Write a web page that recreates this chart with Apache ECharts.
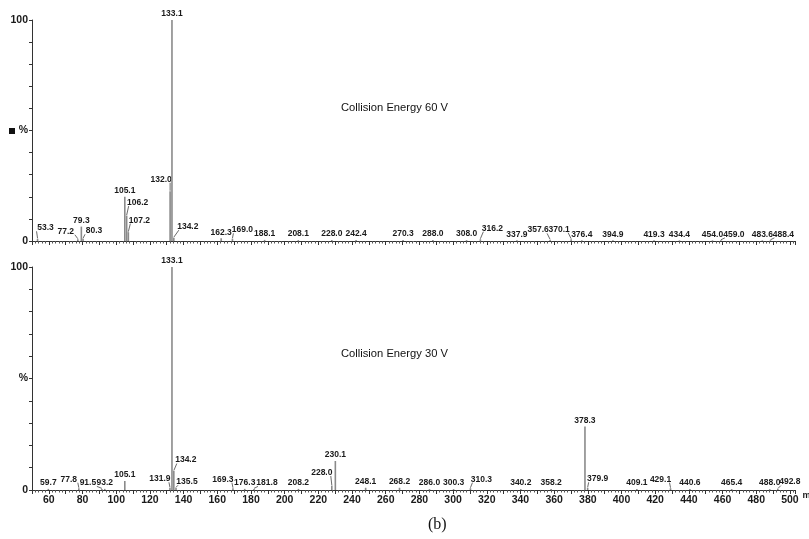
<!DOCTYPE html>
<html>
<head>
<meta charset="utf-8">
<script src="https://cdn.jsdelivr.net/npm/echarts@6/dist/echarts.min.js"></script>
<style>
  html, body { margin: 0; padding: 0; background: #fff; }
  #chart { width: 809px; height: 539px; }
</style>
</head>
<body>
<div id="chart"></div>
<script>
// Product-ion spectra (relative intensity, %) at two collision energies
const mz60 = [53.3, 77.2, 79.3, 80.3, 105.1, 106.2, 107.2, 132.0, 133.1, 134.2,
  162.3, 169.0, 188.1, 208.1, 228.0, 242.4, 270.3, 288.0, 308.0, 316.2,
  337.9, 357.6, 370.1, 376.4, 394.9, 419.3, 434.4, 454.0, 459.0, 483.6, 488.4];
const int60 = [1.0, 0.8, 6.5, 1.0, 20.0, 11.5, 4.0, 22.5, 100, 1.5,
  1.2, 1.0, 0.5, 0.4, 0.4, 0.4, 0.4, 0.4, 0.4, 0.8,
  0.3, 0.5, 0.8, 0.3, 0.3, 0.3, 0.3, 0.3, 0.3, 0.3, 0.3];

const mz30 = [59.7, 77.8, 91.5, 93.2, 105.1, 131.9, 133.1, 134.2, 135.5, 169.3,
  176.3, 181.8, 208.2, 228.0, 230.1, 248.1, 268.2, 286.0, 300.3, 310.3,
  340.2, 358.2, 378.3, 379.9, 409.1, 429.1, 440.6, 465.4, 488.0, 492.8];
const int30 = [0.5, 0.8, 0.5, 0.5, 4.0, 1.0, 100, 8.5, 1.0, 0.8,
  0.5, 0.5, 0.5, 2.0, 13.0, 1.0, 1.0, 0.4, 0.4, 0.8,
  0.4, 0.4, 28.5, 1.0, 0.4, 0.8, 0.4, 0.4, 0.4, 0.4];

const panelTitles = ['Collision Energy 60 V', 'Collision Energy 30 V'];
const yTickText = { 0: '0', 50: '%', 100: '100' };

// Label displacement (px) for crowded peaks; a guide line joins them to the stick
const shift60 = {
  '53.3': [8, -5], '77.2': [-12, -2], '80.3': [11, -2], '106.2': [11, -7],
  '107.2': [11, -6], '132.0': [-9, -6], '134.2': [14, -5], '169.0': [10, -3],
  '316.2': [12, -5], '357.6': [-12, -4], '370.1': [-12, -4], '459.0': [13, 0],
  '488.4': [13, 0]
};
const shift30 = {
  '77.8': [-10, -3], '91.5': [-14, 0], '131.9': [-10, -3], '134.2': [12, -5],
  '135.5': [11, 0], '169.3': [-10, -3], '181.8': [13, 0], '228.0': [-10, -7],
  '310.3': [11, -3], '379.9': [10, -3], '429.1': [-10, -3], '492.8': [12, -1]
};

const LABEL_FONT = 'bold 8.5px "Liberation Sans", Arial, sans-serif';

function stickRenderer(shifts) {
  return function (params, api) {
    const mz = api.value(0);
    const val = api.value(1);
    const base = api.coord([mz, 0]);
    const top = api.coord([mz, val]);
    const key = mz.toFixed(1);
    const s = shifts[key] || [0, 0];
    const lx = top[0] + s[0];
    const ly = top[1] - 1.5 + s[1];
    const children = [{
      type: 'line',
      shape: { x1: base[0], y1: base[1], x2: top[0], y2: top[1] },
      style: { stroke: '#8a8a8a', lineWidth: 1.6 }
    }, {
      type: 'text',
      style: {
        text: key, x: lx, y: ly, align: 'center', verticalAlign: 'bottom',
        font: LABEL_FONT, fill: '#1a1a1a'
      }
    }];
    if (s[0] !== 0) {
      const dir = s[0] > 0 ? 1 : -1;
      const ex = lx - dir * 9;
      children.push({
        type: 'line',
        shape: { x1: top[0], y1: top[1] - 0.5, x2: ex, y2: ly - 1 },
        style: { stroke: '#444', lineWidth: 0.8 }
      });
    }
    return { type: 'group', children: children };
  };
}

const chart = echarts.init(document.getElementById('chart'), null, { renderer: 'canvas' });

const grids = [
  { left: 32, top: 20, width: 763, height: 221, containLabel: false, outerBoundsMode: 'none' },
  { left: 32, top: 267, width: 763, height: 223, containLabel: false, outerBoundsMode: 'none' }
];

function xAxisFor(i) {
  return {
    type: 'value', gridIndex: i, min: 50, max: 503, interval: 10,
    axisLine: { show: true, onZero: false, lineStyle: { color: '#333', width: 1 } },
    axisTick: { show: true, inside: false, length: 4, lineStyle: { color: '#333' } },
    minorTick: { show: true, splitNumber: 5, length: 2.5, lineStyle: { color: '#555' } },
    splitLine: { show: false },
    axisLabel: {
      show: i === 1, margin: 5, color: '#1a1a1a', fontSize: 10.5, fontWeight: 'bold',
      fontFamily: '"Liberation Sans", Arial, sans-serif',
      showMaxLabel: false,
      formatter: v => (v % 20 === 0 ? String(v) : '')
    },
    name: i === 1 ? 'm/z' : '',
    nameLocation: 'end', nameGap: 1,
    nameTextStyle: {
      fontSize: 9, fontWeight: 'bold', color: '#1a1a1a', verticalAlign: 'top',
      padding: [1, 0, 0, 0], fontFamily: '"Liberation Sans", Arial, sans-serif'
    }
  };
}

function yAxisFor(i) {
  return {
    type: 'value', gridIndex: i, min: 0, max: 100, interval: 10,
    axisLine: { show: true, lineStyle: { color: '#333', width: 1 } },
    axisTick: { show: true, inside: false, length: 3, lineStyle: { color: '#333' } },
    splitLine: { show: false },
    axisLabel: {
      margin: 4, color: '#1a1a1a', fontSize: 10.5, fontWeight: 'bold',
      fontFamily: '"Liberation Sans", Arial, sans-serif',
      formatter: v => (yTickText[v] !== undefined ? yTickText[v] : '')
    }
  };
}

chart.setOption({
  animation: false,
  backgroundColor: '#fff',
  grid: grids,
  xAxis: [xAxisFor(0), xAxisFor(1)],
  yAxis: [yAxisFor(0), yAxisFor(1)],
  series: [{
    type: 'custom', xAxisIndex: 0, yAxisIndex: 0, clip: false,
    renderItem: stickRenderer(shift60),
    data: mz60.map((m, k) => [m, int60[k]])
  }, {
    type: 'custom', xAxisIndex: 1, yAxisIndex: 1, clip: false,
    renderItem: stickRenderer(shift30),
    data: mz30.map((m, k) => [m, int30[k]])
  }],
  graphic: [{
    type: 'text', left: 341, top: 102,
    style: { text: panelTitles[0], font: '11.2px "Liberation Sans", Arial, sans-serif', fill: '#111' }
  }, {
    type: 'text', left: 341, top: 348,
    style: { text: panelTitles[1], font: '11.2px "Liberation Sans", Arial, sans-serif', fill: '#111' }
  }, {
    type: 'rect', shape: { x: 9, y: 128, width: 6, height: 6 },
    style: { fill: '#111' }
  }, {
    type: 'text', left: 428, top: 517,
    style: { text: '(b)', font: '16px "Liberation Serif", "Times New Roman", serif', fill: '#111' }
  }]
});
</script>
</body>
</html>
